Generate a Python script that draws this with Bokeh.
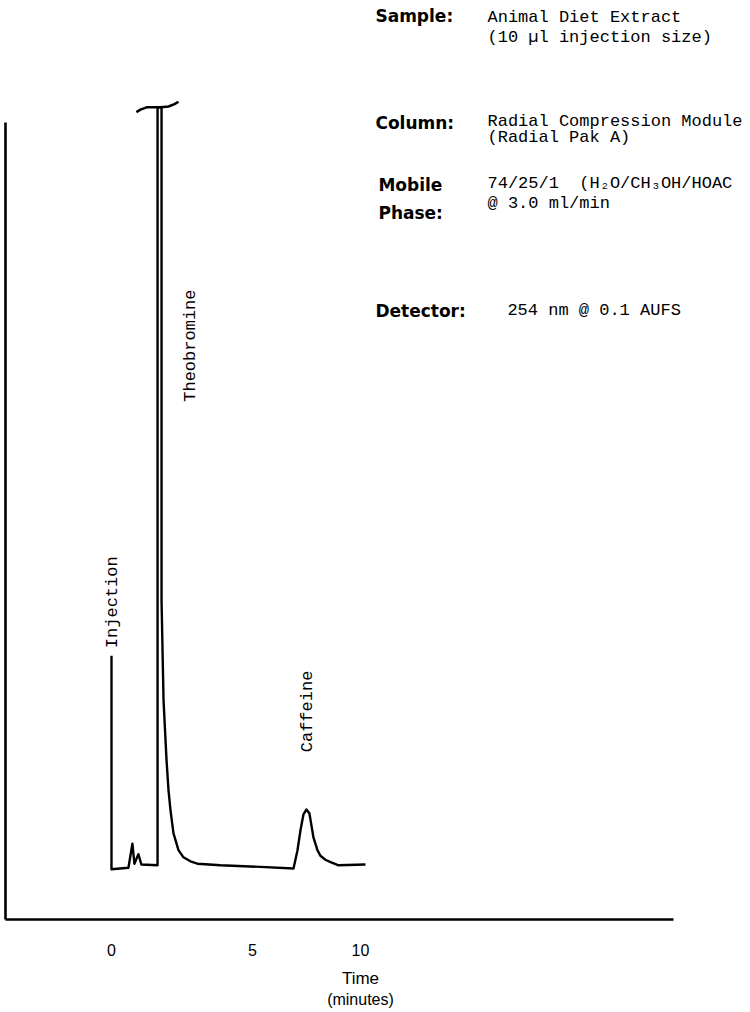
from bokeh.plotting import figure
from bokeh.models import Range1d, FixedTicker, Label, LinearAxis
from bokeh.embed import file_html
from bokeh.resources import INLINE

# Chromatogram trace (time in minutes, detector response in % of full scale)
time_min = [0.00, 0.00, 0.68, 0.84, 0.92, 1.08, 1.20, 1.85, 1.85, 2.01, 2.01, 2.09,
            2.21, 2.29, 2.37, 2.49, 2.69, 2.89, 3.17, 3.45, 4.38, 5.98, 7.31, 7.47,
            7.59, 7.71, 7.83, 7.95, 8.11, 8.27, 8.39, 8.59, 8.80, 9.12, 10.20]
response = [33.1, 6.3, 6.5, 9.5, 7.0, 8.2, 6.9, 6.8, 101.9, 101.9, 40.0, 27.5,
            20.0, 16.2, 13.7, 10.8, 8.7, 7.8, 7.3, 7.0, 6.8, 6.6, 6.4, 8.7,
            11.2, 13.2, 13.8, 13.3, 10.3, 8.7, 8.0, 7.5, 7.2, 6.8, 6.9]

# Off-scale pen mark on top of the theobromine peak
cap_time = [1.00, 1.16, 1.41, 1.97, 2.29, 2.53, 2.69]
cap_response = [101.3, 101.6, 101.9, 101.9, 102.0, 102.3, 102.6]

# Axis ticks as printed
tick_positions = [0, 5.66, 10]
tick_labels = ["0", "5", "10"]
axis_title = ["Time", "(minutes)"]

peak_names = ["Injection", "Theobromine", "Caffeine"]
peak_time = [0.04, 3.17, 7.87]
peak_label_y = [39.8, 72.0, 26.1]

NB = "\u00a0"
info_keys = ["Sample:", "Column:", "Mobile", "Phase:", "Detector:"]
info_lines = ["Animal Diet Extract", "(10 \u00b5l injection size)",
              "Radial Compression Module", "(Radial Pak A)",
              "74/25/1" + NB + NB + "(H\u2082O/CH\u2083OH/HOAC", "@ 3.0 ml/min",
              "254 nm @ 0.1 AUFS"]

p = figure(frame_width=745, frame_height=919, output_backend="svg",
           toolbar_location=None,
           x_range=Range1d(-4.257, 25.663), y_range=Range1d(0, 115.3),
           min_border_left=5, min_border_right=0, min_border_top=0,
           min_border_bottom=0)
p.outline_line_color = None
p.grid.visible = False
p.background_fill_color = "white"
p.border_fill_color = "white"

p.line(time_min, response, line_color="black", line_width=2.4, line_join="round")
p.line(cap_time, cap_response, line_color="black", line_width=2.5, line_join="round")

# x axis
xa = p.xaxis[0]
xa.ticker = FixedTicker(ticks=tick_positions)
xa.major_label_overrides = {t: l for t, l in zip(tick_positions, tick_labels)}
xa.bounds = (-4.257, 22.57)
xa.axis_line_width = 2.6
xa.axis_line_color = "black"
xa.major_tick_line_color = None
xa.minor_tick_line_color = None
xa.major_tick_out = 0
xa.major_tick_in = 0
xa.major_label_standoff = 24
xa.major_label_text_font = "Liberation Sans"
xa.major_label_text_font_size = "16px"
xa.major_label_text_color = "black"

# axis title lines, placed under the "10" tick as in the original
for txt, standoff, size in zip(axis_title, [10, 0], ["17px", "16px"]):
    ax = LinearAxis(ticker=FixedTicker(ticks=[10]),
                    major_label_overrides={10: txt},
                    axis_line_color=None, major_tick_line_color=None,
                    minor_tick_line_color=None, major_tick_out=0, major_tick_in=0,
                    major_label_standoff=standoff,
                    major_label_text_font="Liberation Sans",
                    major_label_text_font_size=size,
                    major_label_text_color="black")
    p.add_layout(ax, "below")

# y axis (no ticks, just the spine)
ya = p.yaxis[0]
ya.ticker = FixedTicker(ticks=[])
ya.bounds = (0, 100)
ya.axis_line_width = 2.6
ya.axis_line_color = "black"
ya.major_tick_line_color = None
ya.minor_tick_line_color = None
ya.major_tick_out = 0
ya.major_tick_in = 0
ya.major_label_standoff = 0

# peak labels (rotated)
for name, t, yl in zip(peak_names, peak_time, peak_label_y):
    p.add_layout(Label(x=t, y=yl, text=name, angle=1.5708,
                       text_font="Liberation Mono", text_font_size="17px",
                       text_align="center", text_baseline="middle",
                       text_color="black"))

# info block
key_pos = [(10.60, 113.4), (10.60, 99.9), (10.72, 92.1), (10.72, 88.7), (10.60, 76.4)]
for k, (x, y) in zip(info_keys, key_pos):
    p.add_layout(Label(x=x, y=y, text=k, text_font="DejaVu Sans",
                       text_font_style="bold", text_font_size="17px",
                       text_baseline="middle", text_color="black"))
line_pos = [(15.10, 113.2), (15.10, 110.7), (15.10, 100.1), (15.10, 98.1),
            (15.10, 92.3), (15.10, 89.8), (15.90, 76.4)]
for s, (x, y) in zip(info_lines, line_pos):
    p.add_layout(Label(x=x, y=y, text=s, text_font="Liberation Mono",
                       text_font_size="17px", text_baseline="middle",
                       text_color="black"))

open("out.html", "w").write(file_html(p, INLINE))
